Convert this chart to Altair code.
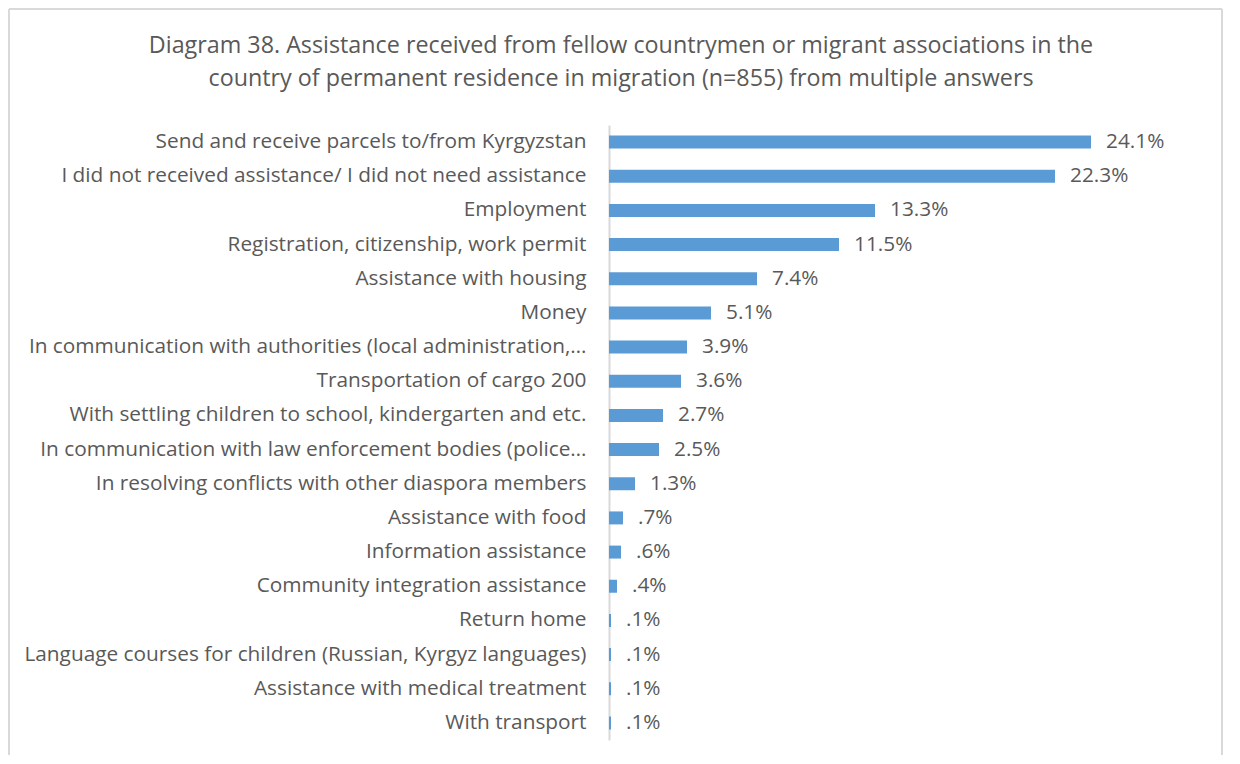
import altair as alt
import pandas as pd

categories = [
    "Send and receive parcels to/from Kyrgyzstan",
    "I did not received assistance/ I did not need assistance",
    "Employment",
    "Registration, citizenship, work permit ",
    "Assistance with housing",
    "Money",
    "In communication with authorities (local administration,…",
    "Transportation of cargo 200",
    "With settling children to school, kindergarten and etc.",
    "In communication with law enforcement bodies (police…",
    "In resolving conflicts with other diaspora members",
    "Assistance with food",
    "Information assistance",
    "Community integration assistance",
    "Return home",
    "Language courses for children (Russian, Kyrgyz languages)",
    "Assistance with medical treatment",
    "With transport",
]
values = [24.1, 22.3, 13.3, 11.5, 7.4, 5.1, 3.9, 3.6, 2.7, 2.5, 1.3, 0.7, 0.6, 0.4, 0.1, 0.1, 0.1, 0.1]
title_lines = [
    "Diagram 38. Assistance received from fellow countrymen or migrant associations in the",
    "country of permanent residence in migration (n=855) from multiple answers",
]


def fmt(v):
    s = f"{v:.1f}"
    if s.startswith("0"):
        s = s[1:]
    return s + "%"


df = pd.DataFrame({"cat": categories, "val": values, "lab": [fmt(v) for v in values]})
one = pd.DataFrame({"a": [0]})

FONT = "Open Sans"
GREY = "#595959"
BORDER = "#D9D9D9"
FS = 20.8

y_enc = alt.Y("cat:N", sort=categories, title=None,
              scale=alt.Scale(paddingInner=0.62, paddingOuter=0.31),
              axis=alt.Axis(labelFontSize=FS, labelColor=GREY, labelFont=FONT,
                            labelLimit=700, ticks=False, labelPadding=23,
                            domainColor=BORDER, domainWidth=2, grid=False))
x_enc = alt.X("val:Q", scale=alt.Scale(domain=[0, 30], nice=False), axis=None)

bars = alt.Chart(df).mark_bar(color="#5B9BD5").encode(y=y_enc, x=x_enc)
text = alt.Chart(df).mark_text(align="left", baseline="middle", dx=15, fontSize=FS,
                               font=FONT, color=GREY).encode(
    y=alt.Y("cat:N", sort=categories), x="val:Q", text="lab:N")

# decorative frame and title (pixel positions relative to the plot area)
top_rule = alt.Chart(one).mark_rule(color=BORDER, strokeWidth=2).encode(
    x=alt.value(-600), x2=alt.value(613), y=alt.value(-116))
left_rule = alt.Chart(one).mark_rule(color=BORDER, strokeWidth=2).encode(
    x=alt.value(-600), y=alt.value(-116), y2=alt.value(640))
right_rule = alt.Chart(one).mark_rule(color=BORDER, strokeWidth=2).encode(
    x=alt.value(613), y=alt.value(-116), y2=alt.value(640))
t1 = alt.Chart(one).mark_text(align="center", baseline="middle", fontSize=23.3,
                              font=FONT, color=GREY).encode(
    x=alt.value(12), y=alt.value(-79), text=alt.value(title_lines[0]))
t2 = alt.Chart(one).mark_text(align="center", baseline="middle", fontSize=23.3,
                              font=FONT, color=GREY).encode(
    x=alt.value(12), y=alt.value(-46), text=alt.value(title_lines[1]))

chart = alt.layer(top_rule, left_rule, right_rule, t1, t2, bars, text).properties(
    width=600, height=615,
    autosize=alt.AutoSizeParams(type="none"),
    padding={"left": 601, "top": 117, "right": 23, "bottom": 15},
).configure_view(stroke=None)

chart.save("out.html", embed_options={"renderer": "svg", "actions": False})
